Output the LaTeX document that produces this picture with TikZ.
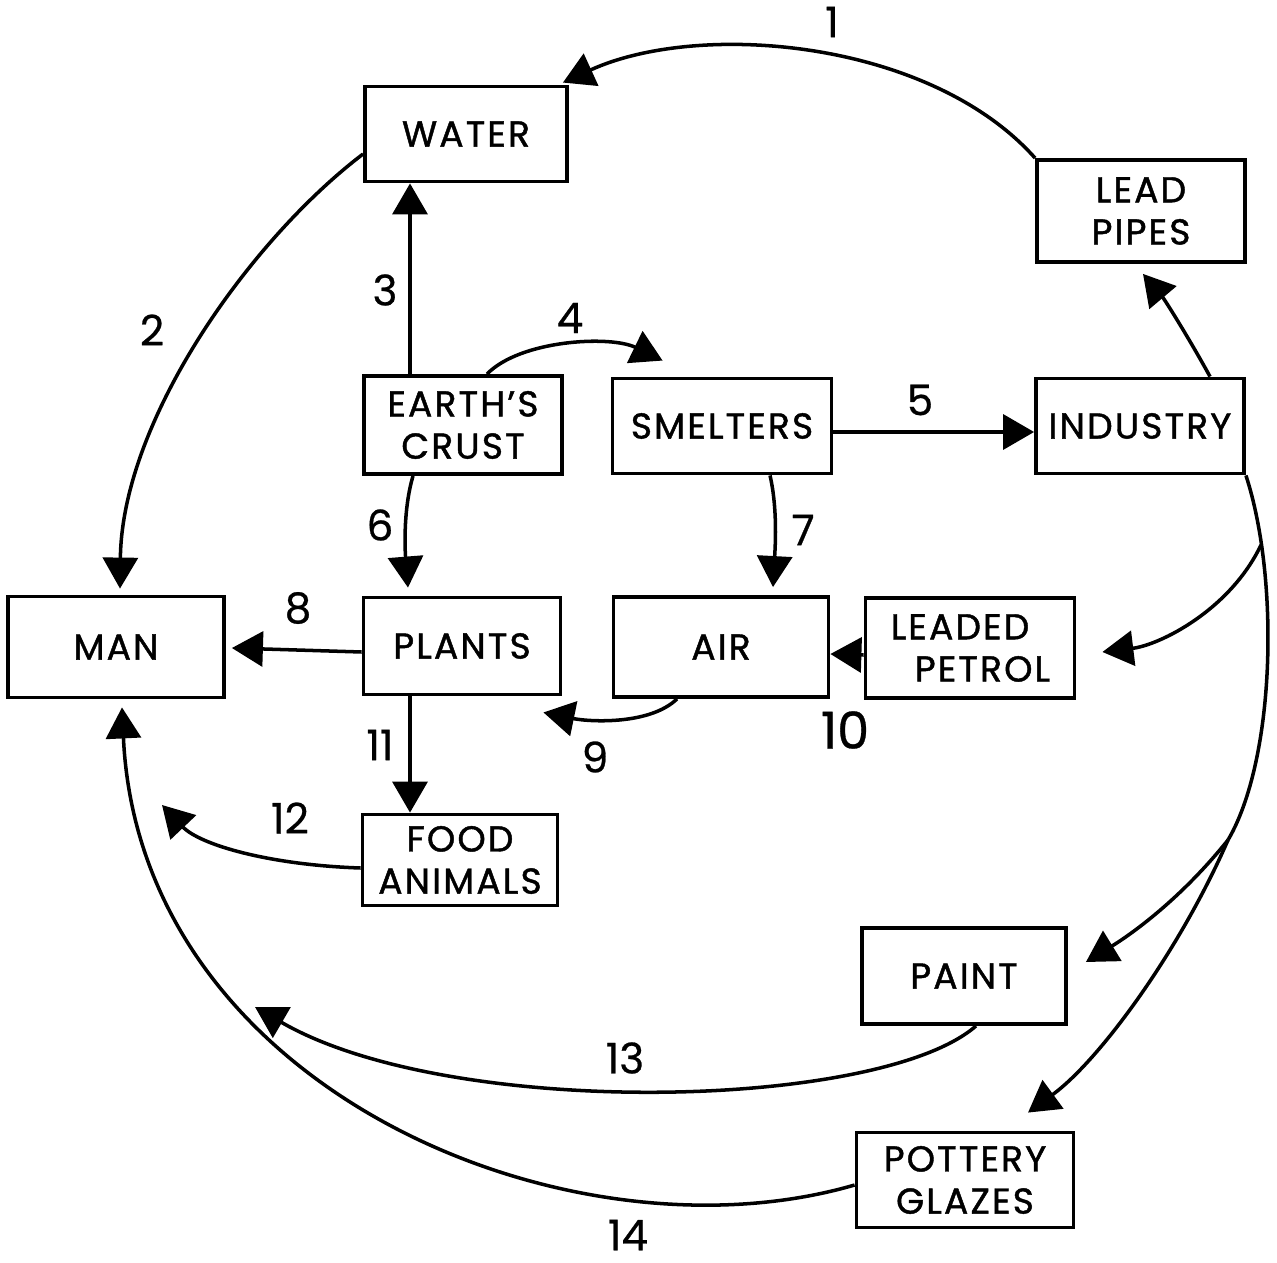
\documentclass[tikz,border=0pt]{standalone}
\usepackage{fontspec}
\setmainfont{Poppins}
\newfontfamily\boxfont{Poppins}[LetterSpace=6, FakeBold=1.2]
\newfontfamily\numfont{Poppins}[FakeBold=0.6]
\usetikzlibrary{arrows.meta,calc}
\begin{document}
\begin{tikzpicture}[x=0.02cm,y=-0.02cm,
 box/.style={draw, line width=2.2pt, inner sep=0pt, align=center, font=\boxfont\fontsize{20.5}{24}\selectfont},
 arr/.style={line width=2pt, -{Triangle[length=0.62cm,width=0.7cm]}},
 ln/.style={line width=2pt},
 num/.style={inner sep=0pt, font=\numfont\fontsize{24}{24}\selectfont}]
\useasboundingbox (0,0) rectangle (1277,1263);
% boxes
\node[box, minimum width=4.04cm, minimum height=1.9cm] (water) at (466,134) {WATER};
\node[box, minimum width=4.16cm, minimum height=2.04cm] (pipes) at (1141,211) {LEAD\\PIPES};
\node[box, minimum width=3.96cm, minimum height=1.96cm] (crust) at (463,425) {EARTH’S\\CRUST};
\node[box, minimum width=4.38cm, minimum height=1.9cm] (smelt) at (722,426) {SMELTERS};
\node[box, minimum width=4.16cm, minimum height=1.9cm] (ind) at (1140,426) {INDUSTRY};
\node[box, minimum width=4.32cm, minimum height=2.02cm] (man) at (116,647) {MAN};
\node[box, minimum width=3.94cm, minimum height=1.94cm] (plants) at (462,646) {PLANTS};
\node[box, minimum width=4.3cm, minimum height=2cm] (air) at (721,647) {AIR};
\node[box, minimum width=4.18cm, minimum height=2cm] (petrol) at (970,648) {LEADED\hspace*{0.4cm}\\\hspace*{0.5cm}PETROL};
\node[box, minimum width=3.9cm, minimum height=1.82cm] (food) at (460,860) {FOOD\\ANIMALS};
\node[box, minimum width=4.08cm, minimum height=1.92cm] (paint) at (964,976) {PAINT};
\node[box, minimum width=4.34cm, minimum height=1.9cm] (pottery) at (965,1180) {POTTERY\\GLAZES};
% free ends / branch points
\coordinate (b1) at (1261,545);
\coordinate (b2) at (1228,840);
\coordinate (t12) at (162,805);
\coordinate (t13) at (255,1007);
\coordinate (s3) at ($(crust.north)+(-53,0)$);
\coordinate (s11) at ($(plants.south)+(-52,0)$);
% connectors
\draw[arr] (pipes.north west) .. controls (930,40) and (700,20) .. ($(water.north east)+(-6,-2)$);
\draw[arr] ($(water.west)+(0,20)$) .. controls (250,240) and (122,420) .. ($(man.north)+(4,-6)$);
\draw[arr] (s3) -- (s3 |- water.south);
\draw[arr] ($(crust.north)+(24,0)$) .. controls (520,340) and (610,335) .. ($(smelt.north west)+(52,-16)$);
\draw[arr] ($(smelt.east)+(0,6)$) -- ($(ind.west)+(0,6)$);
\draw[arr] ($(crust.south)+(-50,0)$) .. controls (403,510) and (405,550) .. ($(plants.north)+(-54,-8)$);
\draw[arr] ($(smelt.south)+(48,0)$) .. controls (778,510) and (775,550) .. ($(air.north)+(52,-8)$);
\draw[arr] ($(plants.west)+(0,6)$) -- ($(man.east)+(6,1)$);
\draw[arr] ($(air.south)+(-44,0)$) .. controls (650,725) and (590,722) .. ($(plants.south east)+(-19,16)$);
\draw[arr] ($(petrol.west)+(0,7)$) -- ($(air.east)+(0,7)$);
\draw[arr] (s11) -- (s11 |- food.north);
\draw[arr] ($(food.west)+(0,8)$) .. controls (270,865) and (200,845) .. (t12);
\draw[arr] ($(paint.south)+(12,0)$) .. controls (880,1110) and (450,1120) .. (t13);
\draw[arr] ($(pottery.west)+(0,5)$) .. controls (570,1268) and (140,1090) .. ($(man.south)+(6,8)$);
\draw[arr] ($(ind.north)+(70,0)$) .. controls (1190,340) and (1165,300) .. ($(pipes.south)+(2,10)$);
\draw[ln] (ind.south east) .. controls (1280,580) and (1275,760) .. (b2);
\draw[arr] (b1) .. controls (1230,610) and (1160,645) .. ($(petrol.east)+(26,4)$);
\draw[arr] (b2) .. controls (1180,900) and (1130,935) .. ($(paint.east)+(18,-14)$);
\draw[arr] (b2) .. controls (1180,950) and (1100,1060) .. ($(pottery.north)+(63,-18)$);
% labels
\node[num] (n1) at (832,22) {1};
\node[num] (n2) at (152,330) {2};
\node[num] (n3) at (385,290) {3};
\node[num] (n4) at (570,318) {4};
\node[num] (n5) at (920,400) {5};
\node[num] (n6) at (380,525) {6};
\node[num] (n7) at (803,530) {7};
\node[num] (n8) at (298,608) {8};
\node[num] (n9) at (595,757) {9};
\node[num, font=\numfont\fontsize{29}{29}\selectfont] (n10) at (845,730) {10};
\node[num] (n11) at (380,745) {11};
\node[num] (n12) at (290,818) {12};
\node[num] (n13) at (625,1058) {13};
\node[num] (n14) at (628,1235) {14};
\end{tikzpicture}
\end{document}
